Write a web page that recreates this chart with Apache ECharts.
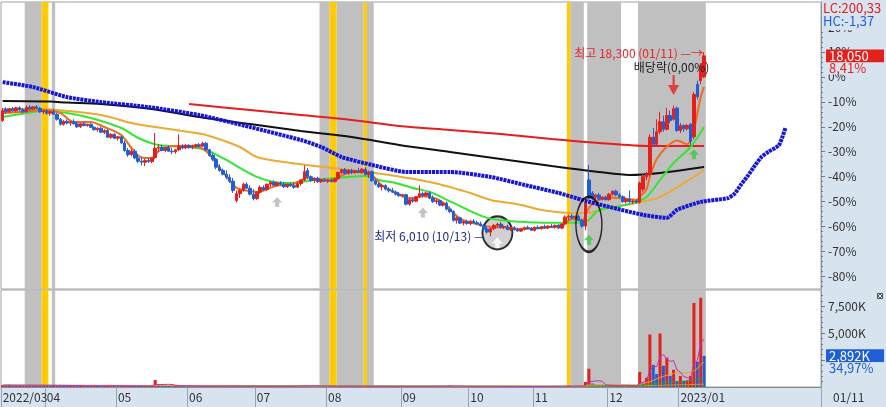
<!DOCTYPE html>
<html><head><meta charset="utf-8">
<script src="https://cdn.jsdelivr.net/npm/echarts@6/dist/echarts.min.js"></script>
<style>html,body{margin:0;padding:0;background:#fff}#c{width:886px;height:407px}</style>
</head><body><div id="c"></div>
<script>
// ---------- categories (trading days) ----------
const tradingMonths = [
 ['2022/03',[15,16,17,18,21,22,23,24,25,28,29,30,31]],
 ['2022/04',[1,4,5,6,7,8,11,12,13,14,15,18,19,20,21,22,25,26,27,28,29]],
 ['2022/05',[2,3,4,6,9,10,11,12,13,16,17,18,19,20,23,24,25,26,27,30,31]],
 ['2022/06',[2,3,7,8,9,10,13,14,15,16,17,20,21,22,23,24,27,28,29,30]],
 ['2022/07',[1,4,5,6,7,8,11,12,13,14,15,18,19,20,21,22,25,26,27,28,29]],
 ['2022/08',[1,2,3,4,5,8,9,10,11,12,16,17,18,19,22,23,24,25,26,29,30,31]],
 ['2022/09',[1,2,5,6,7,8,13,14,15,16,19,20,21,22,23,26,27,28,29,30]],
 ['2022/10',[4,5,6,7,11,12,13,14,17,18,19,20,21,24,25,26,27,28,31]],
 ['2022/11',[1,2,3,4,7,8,9,10,11,14,15,16,17,18,21,22,23,24,25,28,29,30]],
 ['2022/12',[1,2,5,6,7,8,9,12,13,14,15,16,19,20,21,22,23,26,27,28,29]],
 ['2023/01',[2,3,4,5,6,9,10,11]]
];
const futureMonths = [
 ['2023/01',[12,13,16,17,18,19,20,25,26,27,30,31]],
 ['2023/02',[1,2,3,6,7,8,9,10,13,14,15,16,17,20,21,22,23,24,27,28]],
 ['2023/03',[2,3]]
];

// ---------- price data (% vs base price) ----------
const basePrice = 16650;
const opens = [
-17.5,-13.0,-14.0,-12.8,-13.6,-12.4,-13.2,-14.0,-12.2,-12.9,
-12.0,-12.6,-14.0,-13.6,-14.6,-14.0,-15.0,-17.0,-19.0,-17.8,
-18.5,-18.0,-18.8,-20.0,-18.8,-19.5,-19.0,-20.2,-21.2,-20.6,
-22.2,-21.5,-24.2,-23.0,-24.6,-24.0,-26.5,-29.5,-31.2,-29.8,
-32.5,-33.8,-34.2,-33.5,-33.9,-32.3,-28.6,-28.2,-29.5,-28.3,
-29.8,-30.0,-29.2,-27.8,-28.5,-27.5,-28.3,-27.8,-27.2,-27.8,
-26.6,-29.2,-31.5,-33.0,-36.2,-37.5,-39.0,-40.2,-41.8,-49.5,
-46.8,-45.5,-43.0,-44.6,-47.0,-48.8,-46.2,-44.3,-45.2,-43.0,
-42.2,-43.4,-42.5,-43.0,-44.0,-43.0,-43.6,-44.2,-42.8,-41.3,
-37.5,-40.0,-41.5,-40.6,-42.0,-41.2,-41.8,-41.5,-42.0,-40.8,
-38.3,-37.2,-38.6,-37.4,-38.3,-37.6,-38.2,-37.0,-39.2,-38.0,
-41.6,-43.0,-44.0,-43.6,-45.0,-45.6,-46.2,-47.0,-47.6,-47.2,
-51.0,-49.2,-49.8,-48.0,-46.8,-47.5,-46.5,-48.6,-50.0,-49.6,
-51.4,-50.6,-53.0,-54.0,-57.5,-56.5,-58.6,-58.0,-58.8,-57.8,
-58.4,-58.9,-59.6,-61.0,-62.2,-60.8,-59.5,-59.0,-60.2,-60.0,
-61.2,-60.5,-61.3,-61.8,-61.0,-60.4,-60.8,-61.5,-60.3,-60.8,
-60.0,-60.5,-59.8,-60.2,-59.5,-60.6,-59.0,-56.2,-55.8,-56.5,
-55.9,-57.5,-59.8,-41.3,-46.5,-48.2,-47.3,-49.0,-48.2,-49.2,
-47.0,-45.8,-47.3,-48.0,-50.0,-49.0,-50.0,-49.8,-50.2,-45.0,
-40.0,-39.0,-24.2,-27.0,-22.0,-18.0,-21.0,-15.5,-17.0,-12.5,
-21.5,-19.5,-20.8,-19.0,-24.0,-3.0,-1.5,0.0];
const highs = [
-12.5,-12.2,-12.5,-12.0,-12.0,-11.8,-12.5,-11.5,-11.4,-11.8,
-11.3,-12.0,-13.0,-13.0,-13.5,-12.8,-14.5,-16.5,-17.2,-17.0,
-17.5,-17.0,-18.0,-18.5,-18.2,-18.8,-18.5,-19.8,-20.2,-20.0,
-21.0,-21.0,-22.5,-22.6,-23.8,-23.5,-25.5,-28.5,-29.0,-29.0,
-31.0,-32.0,-32.8,-32.6,-32.5,-22.5,-27.0,-27.2,-28.0,-27.5,
-28.5,-29.0,-23.0,-27.0,-27.0,-27.0,-27.2,-26.8,-26.5,-26.0,
-26.0,-28.8,-30.5,-32.5,-35.0,-36.8,-37.5,-39.0,-40.5,-45.5,
-45.0,-42.5,-42.3,-43.5,-45.0,-45.8,-43.5,-43.5,-42.8,-41.8,
-41.5,-42.0,-41.8,-42.2,-42.8,-42.5,-42.5,-42.0,-41.8,-35.5,
-36.5,-39.5,-40.3,-40.0,-40.8,-40.5,-41.0,-40.8,-40.5,-38.0,
-36.8,-36.5,-37.0,-36.8,-37.2,-36.4,-36.5,-36.2,-37.5,-37.5,
-40.8,-42.2,-43.0,-43.0,-44.2,-44.5,-45.5,-46.2,-46.8,-46.8,
-48.5,-48.2,-47.8,-43.5,-46.0,-46.0,-45.8,-47.5,-49.0,-49.2,
-50.2,-50.0,-52.0,-53.5,-56.0,-56.0,-57.5,-57.2,-57.5,-57.0,
-57.6,-58.0,-59.0,-60.0,-60.5,-59.0,-58.5,-58.2,-59.5,-59.2,
-60.0,-59.8,-60.5,-60.8,-60.0,-59.6,-60.2,-60.0,-59.5,-59.8,
-59.2,-59.5,-59.0,-59.2,-59.0,-58.8,-55.5,-55.2,-55.0,-55.5,
-55.2,-56.8,-50.0,-35.3,-45.8,-46.8,-46.5,-47.8,-47.6,-46.5,
-45.5,-45.2,-46.5,-47.5,-48.5,-45.5,-49.2,-49.0,-42.0,-39.0,
-38.0,-23.0,-20.5,-17.0,-14.0,-15.5,-12.5,-13.5,-11.5,-12.0,
-18.5,-19.0,-18.8,-18.5,-6.0,-1.5,5.5,9.91];
const lows = [
-18.0,-14.8,-14.5,-14.0,-14.2,-13.9,-14.6,-14.3,-13.5,-13.3,
-13.0,-14.4,-15.0,-15.2,-15.6,-15.0,-17.5,-19.5,-19.6,-19.0,
-19.6,-19.0,-20.5,-20.5,-19.8,-20.0,-20.5,-21.5,-22.0,-22.5,
-23.0,-24.5,-24.8,-25.0,-25.5,-26.8,-30.0,-32.0,-31.8,-33.0,
-34.5,-35.5,-35.8,-34.5,-34.6,-33.0,-30.0,-29.8,-30.2,-30.0,
-31.0,-30.8,-29.8,-29.0,-29.0,-28.8,-29.0,-28.5,-28.2,-28.0,
-29.5,-32.0,-33.8,-37.0,-38.0,-39.5,-41.0,-42.5,-46.5,-50.3,
-48.5,-46.0,-45.0,-47.5,-49.5,-49.3,-46.8,-45.8,-45.6,-44.0,
-43.8,-44.0,-43.5,-44.5,-44.5,-44.0,-44.8,-44.5,-43.5,-41.8,
-41.0,-42.0,-42.6,-42.5,-42.5,-42.0,-42.5,-42.2,-42.3,-41.3,
-38.8,-39.0,-39.2,-39.0,-38.8,-38.5,-38.8,-39.5,-40.5,-42.0,
-43.5,-44.5,-45.6,-45.5,-46.3,-46.5,-47.5,-48.0,-48.3,-51.5,
-51.6,-50.5,-50.2,-48.5,-48.3,-48.0,-49.0,-50.5,-51.0,-51.8,
-52.0,-53.5,-54.5,-58.0,-58.8,-59.0,-59.5,-59.2,-59.5,-59.0,
-59.3,-60.0,-61.5,-62.8,-63.9,-61.5,-60.5,-60.8,-61.0,-61.5,
-61.8,-61.5,-62.0,-62.2,-61.5,-61.0,-61.8,-62.0,-61.0,-61.2,
-60.8,-61.0,-60.5,-60.8,-61.0,-61.0,-59.5,-57.5,-57.2,-57.0,
-57.8,-60.5,-61.5,-49.0,-48.8,-49.2,-49.5,-49.6,-49.5,-49.6,
-47.6,-47.8,-48.5,-50.5,-50.8,-50.5,-51.0,-50.8,-50.8,-46.0,
-41.5,-40.0,-28.0,-27.5,-23.0,-22.0,-21.5,-18.5,-17.5,-22.0,
-22.5,-22.0,-21.5,-27.3,-25.0,-9.0,-3.0,-0.5];
const closes = [
-13.5,-14.0,-12.8,-13.6,-12.4,-13.2,-14.0,-12.2,-12.9,-12.0,
-12.6,-14.0,-13.6,-14.6,-14.0,-15.0,-17.0,-19.0,-17.8,-18.5,
-18.0,-18.8,-20.0,-18.8,-19.5,-19.0,-20.2,-21.2,-20.6,-22.2,
-21.5,-24.2,-23.0,-24.6,-24.0,-26.5,-29.5,-31.2,-29.8,-32.5,
-33.8,-34.2,-33.5,-33.9,-32.5,-28.6,-28.2,-29.5,-28.3,-29.8,
-30.0,-29.2,-27.8,-28.5,-27.5,-28.3,-27.8,-27.2,-27.8,-26.6,
-29.2,-31.5,-33.0,-36.2,-37.5,-39.0,-40.2,-41.8,-45.5,-46.8,
-45.5,-43.0,-44.6,-47.0,-48.8,-46.2,-44.3,-45.2,-43.0,-42.2,
-43.4,-42.5,-43.0,-44.0,-43.0,-43.6,-44.2,-42.8,-41.3,-38.0,
-40.0,-41.5,-40.6,-42.0,-41.2,-41.8,-41.5,-42.0,-40.8,-38.3,
-37.2,-38.6,-37.4,-38.3,-37.6,-38.2,-37.0,-39.2,-38.0,-41.6,
-43.0,-44.0,-43.6,-45.0,-45.6,-46.2,-47.0,-47.6,-47.2,-51.0,
-49.2,-49.8,-48.0,-46.8,-47.5,-46.5,-48.6,-50.0,-49.6,-51.4,
-50.6,-53.0,-54.0,-57.5,-56.5,-58.6,-58.0,-58.8,-57.8,-58.4,
-58.9,-59.6,-61.0,-62.2,-60.8,-59.5,-59.0,-60.2,-60.0,-61.2,
-60.5,-61.3,-61.8,-61.0,-60.4,-60.8,-61.5,-60.3,-60.8,-60.0,
-60.5,-59.8,-60.2,-59.5,-60.6,-59.0,-56.2,-55.8,-56.5,-55.9,
-57.5,-59.8,-50.5,-48.1,-48.2,-47.3,-49.0,-48.2,-49.2,-47.0,
-45.8,-47.3,-48.0,-50.0,-49.0,-50.0,-49.8,-50.2,-42.5,-40.0,
-39.0,-24.2,-27.0,-22.0,-18.0,-21.0,-15.5,-17.5,-12.8,-21.5,
-19.5,-20.8,-19.5,-25.8,-7.0,-8.0,4.5,8.41];

// volume, thousand shares
const volumes = [
180,150,210,130,160,120,170,140,200,110,150,130,160,
140,120,150,110,190,130,100,120,140,90,110,130,100,120,150,110,90,100,120,140,110,
120,100,140,110,160,120,100,90,110,80,100,650,260,150,110,90,80,100,180,90,70,
80,70,90,60,100,80,70,90,110,80,70,60,80,90,120,70,60,80,70,60,
60,50,70,60,80,50,60,50,70,60,50,60,70,90,190,80,60,50,60,50,60,
50,60,70,50,80,90,60,50,60,50,60,70,50,60,80,60,50,60,50,40,50,60,
50,40,70,50,60,90,60,50,60,50,40,60,50,70,160,80,60,50,40,50,
60,50,40,50,60,70,90,60,50,40,50,40,50,60,40,50,40,50,40,
40,50,60,40,50,60,50,70,60,90,150,80,70,60,90,470,1690,320,210,180,140,120,
110,150,100,90,80,70,130,90,80,1400,380,850,4870,2060,1200,4970,1970,2720,1030,1600,560,
1030,560,600,1030,7800,2350,8280,2892];

// moving averages: [day index, %]
const ma5 = [[0,-14.5],[5,-14.1],[12,-13.3],[17,-14.5],[21,-18.1],[26,-18.1],[30,-20.1],[35,-23.3],[38,-28.5],[41,-32.3],[44,-32.5],[46,-29.8],[49,-28.0],[55,-27.6],[58,-28.1],[61,-31.0],[64,-36.5],[67,-41.5],[69,-44.5],[71,-45.3],[75,-46.1],[78,-45.0],[81,-43.5],[85,-43.3],[88,-41.5],[90,-40.3],[92,-41.0],[97,-41.3],[100,-39.5],[103,-38.2],[106,-38.2],[109,-39.5],[112,-43.5],[116,-46.5],[119,-48.3],[121,-48.6],[124,-47.8],[128,-48.8],[131,-51.5],[133,-54.5],[135,-56.8],[138,-58.3],[143,-60.0],[148,-60.4],[153,-61.0],[158,-60.7],[162,-60.2],[164,-59.8],[166,-58.5],[168,-57.0],[171,-57.5],[172,-55.5],[173,-52.5],[175,-50.0],[179,-48.3],[184,-48.8],[187,-49.4],[188,-48.0],[190,-45.0],[191,-40.0],[193,-33.0],[196,-28.0],[199,-25.5],[202,-27.0],[204,-21.0],[206,-8.0],[207,-4.0]];
const ma20 = [[0,-16.1],[9,-14.1],[12,-13.7],[19,-14.5],[26,-16.5],[35,-20.5],[40,-24.5],[46,-27.3],[55,-28.1],[60,-29.3],[66,-33.3],[70,-36.5],[75,-40.1],[80,-42.1],[85,-42.5],[92,-41.3],[102,-40.1],[107,-39.7],[111,-41.3],[116,-42.5],[121,-44.5],[126,-46.1],[133,-50.5],[143,-56.5],[153,-58.1],[162,-58.5],[167,-58.5],[172,-58.1],[176,-53.3],[181,-52.1],[186,-50.5],[190,-48.1],[194,-41.3],[198,-34.5],[203,-28.1],[207,-20.1]];
const ma60 = [[0,-12.9],[8,-12.9],[16,-13.3],[29,-15.3],[38,-18.5],[41,-19.3],[55,-22.1],[60,-23.3],[70,-28.1],[75,-32.1],[85,-34.5],[97,-36.5],[108,-38.1],[126,-42.1],[138,-46.5],[144,-49.3],[153,-51.3],[159,-53.3],[168,-54.5],[172,-54.5],[179,-52.5],[187,-50.5],[194,-48.1],[207,-37.3]];
const ma120 = [[0,-9.7],[14,-9.9],[19,-10.3],[29,-10.9],[44,-12.9],[58,-16.1],[73,-18.9],[88,-21.7],[103,-24.1],[117,-27.3],[132,-30.1],[147,-32.9],[162,-35.7],[176,-38.1],[185,-39.3],[194,-38.5],[207,-36.1]];
const ma240 = [[55,-10.9],[73,-13.3],[88,-15.3],[103,-17.3],[117,-19.7],[132,-21.3],[147,-22.9],[162,-24.9],[176,-26.5],[191,-27.7],[207,-27.7]];
const shiftedLine = [[0,-2.1],[9,-4.1],[19,-8.1],[29,-10.1],[43,-12.1],[58,-15.3],[73,-20.1],[88,-25.3],[94,-28.1],[100,-32.1],[109,-35.3],[119,-38.1],[126,-38.1],[132,-38.1],[144,-40.1],[154,-43.3],[164,-46.5],[171,-49.3],[179,-52.1],[189,-55.3],[196,-56.5],[199,-53.3],[206,-50.1],[214,-48.6],[216,-46.8],[218,-43.0],[220,-39.5],[222,-35.5],[224,-32.0],[226,-30.0],[229,-27.5],[230,-24.5],[231,-20.5]];

// volume moving averages: [day index, thousand shares]
const volMa5 = [[0,165],[12,160],[25,125],[33,120],[40,110],[44,100],[45,210],[47,230],[49,250],[50,230],[52,120],[60,85],[80,65],[87,70],[89,100],[92,110],[94,80],[120,60],[132,80],[135,90],[137,60],[160,50],[166,70],[171,90],[172,150],[173,470],[174,530],[175,550],[176,570],[177,530],[178,180],[182,120],[187,90],[188,350],[189,420],[190,560],[191,1520],[192,1910],[193,1890],[194,2790],[195,3010],[196,2580],[197,2380],[198,2460],[199,1580],[200,1390],[201,960],[202,870],[203,760],[204,2200],[205,2470],[206,4010],[207,4470]];
const volMa20 = [[0,160],[33,130],[45,140],[55,130],[70,85],[95,70],[130,60],[160,55],[171,70],[173,170],[180,230],[187,200],[188,250],[191,480],[194,880],[196,1100],[198,1250],[200,1300],[202,1300],[204,1500],[205,1700],[206,2100],[207,2300]];
const volMa60 = [[0,170],[40,140],[80,100],[120,70],[171,60],[173,110],[187,140],[190,220],[195,400],[200,500],[204,650],[207,800]];
const volMa120 = [[0,140],[100,110],[171,80],[188,110],[207,260]];

// highlighted periods
const grayBands = [['2022/03/24','2022/03/30'],['2022/04/05','2022/04/05'],['2022/07/28','2022/08/01'],['2022/08/04','2022/08/16'],['2022/08/18','2022/08/19'],['2022/11/16','2022/11/21'],['2022/11/23','2022/12/06'],['2022/12/14','2023/01/11']];
const yellowBands = [['2022/03/31','2022/04/01'],['2022/08/02','2022/08/03'],['2022/08/17','2022/08/17'],['2022/11/15','2022/11/15']];

// signal markers [day index, %]
const grayUpSignals = [[81,-50.1],[124,-54.3]];
const whiteUpSignals = [[146,-66.5]];
const greenUpSignals = [[173,-65.3],[204,-31.0]];
const exDividendMarks = [[198,-3.3]];
const filledEllipses = [[146,-62.5]];
const openEllipses = [[173,-59.1]];

// texts
const yTicks = [-80,-70,-60,-50,-40,-30,-20,-10,0,10,20];
const yMinorTicks = [-84,-82,-78,-76,-74,-72,-68,-66,-64,-62,-58,-56,-54,-52,-48,-46,-44,-42,-38,-36,-34,-32,-28,-26,-24,-22,-18,-16,-14,-12,-8,-6,-4,-2,2,4,6,8,12,14,16,18,22,24,26,28];
const volTicks = [2500,5000,7500];
const volMinorTicks = [500,1000,1500,2000,3000,3500,4000,4500,5500,6000,6500,7000,8000,8500];
const hiText = '최고 18,300 (01/11) —→';
const loText = '최저 6,010 (10/13) —';
const exDivText = '배당락(0,00%)';
const lcText = 'LC:200,33';
const hcText = 'HC:-1,37';
const volRatioText = '34,97%';
const lastDateText = '01/11';

// ---------- build ----------
const pad = d => (d < 10 ? '0' : '') + d;
const cats = [];
tradingMonths.forEach(([m, ds]) => ds.forEach(d => cats.push(m + '/' + pad(d))));
const nData = cats.length;
futureMonths.forEach(([m, ds]) => ds.forEach(d => cats.push(m + '/' + pad(d))));

const isMonthStart = (i) => i < nData && (i === 0 || cats[i].slice(0, 7) !== cats[i - 1].slice(0, 7));
const isLabelMonth = (i) => i > 0 && isMonthStart(i);
const fmtMonth = (v, i) => (i === 0 || v.slice(5, 7) === '01') ? v.slice(0, 7) : v.slice(5, 7);

const bandData = [];
grayBands.forEach(([a, b]) => bandData.push([cats.indexOf(a), cats.indexOf(b), 0]));
yellowBands.forEach(([a, b]) => bandData.push([cats.indexOf(a), cats.indexOf(b), 1]));

const RED = '#e3201b', BLUE = '#1f5fd6';
const FONT = '"Noto Sans CJK KR","Noto Sans",sans-serif';
const candleData = opens.map((o, i) => [o, closes[i], lows[i], highs[i]]);
const volData = volumes.map((v, i) => ({ value: v, itemStyle: { color: (i > 0 && v < volumes[i - 1]) ? BLUE : RED } }));

const UP = 'path://M5,0 L10,5.5 L7,5.5 L7,10 L3,10 L3,5.5 L0,5.5 Z';
const DOWN = 'path://M4,0 L6,0 L6,10 L10,10 L5,20 L0,10 L4,10 Z';
const ELL = 'path://M50,0 C77.6,0 100,22.4 100,50 C100,77.6 77.6,100 50,100 C22.4,100 0,77.6 0,50 C0,22.4 22.4,0 50,0 Z';

function bandItem(params, api) {
  const s = api.value(0), e = api.value(1), k = api.value(2);
  const cs = params.coordSys;
  const w = api.size([1, 0])[0];
  const x0 = api.coord([s, 0])[0] - w / 2;
  const x1 = api.coord([e, 0])[0] + w / 2;
  return { type: 'rect', shape: { x: x0, y: cs.y, width: x1 - x0, height: cs.height },
           style: { fill: k ? '#ffcc00' : '#c0c0c0' } };
}
const line = (data, color, z, extra) => Object.assign({
  type: 'line', xAxisIndex: 0, yAxisIndex: 0, data, symbol: 'none', showSymbol: false,
  smooth: 0.3, lineStyle: { color, width: 2 }, z, silent: true }, extra || {});
const vline = (data, color) => ({
  type: 'line', xAxisIndex: 1, yAxisIndex: 2, data, symbol: 'none', showSymbol: false,
  lineStyle: { color, width: 1 }, z: 4, silent: true });

const axisTxt = { color: '#333', fontSize: 12, fontFamily: FONT };
const chart = echarts.init(document.getElementById('c'), null, { renderer: 'canvas' });
chart.setOption({
  animation: false,
  backgroundColor: '#ffffff',
  grid: [
    { left: 1, top: 2, width: 820, height: 287, show: true, borderColor: '#a0a0a0', borderWidth: 1 },
    { left: 1, top: 290, width: 820, height: 97, show: true, borderColor: '#a0a0a0', borderWidth: 1 }
  ],
  xAxis: [
    { type: 'category', gridIndex: 0, data: cats, boundaryGap: true, axisLine: { show: false }, axisTick: { show: false }, axisLabel: { show: false }, splitLine: { show: false } },
    { type: 'category', gridIndex: 1, data: cats, boundaryGap: true,
      axisLine: { show: true, lineStyle: { color: '#8c8c8c' } },
      axisTick: { show: true, interval: isMonthStart, length: 20, lineStyle: { color: '#97a3b3' } },
      axisLabel: Object.assign({ show: true, interval: isLabelMonth, formatter: fmtMonth, align: 'left', margin: 4,
        hideOverlap: false, showMinLabel: true, showMaxLabel: true }, axisTxt),
      splitLine: { show: false } }
  ],
  yAxis: [
    { type: 'value', gridIndex: 0, position: 'right', min: -85, max: 30,
      axisLine: { show: true, lineStyle: { color: '#8d99ab' } },
      axisTick: { show: true, customValues: yTicks, length: 4, lineStyle: { color: '#6d7a8c' } },
      axisLabel: Object.assign({ customValues: yTicks, formatter: v => v + '%', margin: 7 }, axisTxt),
      splitLine: { show: false } },
    { type: 'value', gridIndex: 0, position: 'right', min: -85, max: 30,
      axisLine: { show: false }, axisTick: { show: true, customValues: yMinorTicks, length: 2, lineStyle: { color: '#6d7a8c' } },
      axisLabel: { show: false }, splitLine: { show: false } },
    { type: 'value', gridIndex: 1, position: 'right', min: 0, max: 9000,
      axisLine: { show: true, lineStyle: { color: '#8d99ab' } },
      axisTick: { show: true, customValues: volTicks, length: 4, lineStyle: { color: '#6d7a8c' } },
      axisLabel: Object.assign({ customValues: volTicks, formatter: v => v.toLocaleString('en-US') + 'K', margin: 7 }, axisTxt),
      splitLine: { show: false } },
    { type: 'value', gridIndex: 1, position: 'right', min: 0, max: 9000,
      axisLine: { show: false }, axisTick: { show: true, customValues: volMinorTicks, length: 2, lineStyle: { color: '#6d7a8c' } },
      axisLabel: { show: false }, splitLine: { show: false } }
  ],
  series: [
    { type: 'custom', xAxisIndex: 0, yAxisIndex: 0, z: 0, silent: true, renderItem: bandItem, data: bandData, encode: { x: [0, 1], y: 2 } },
    { type: 'custom', xAxisIndex: 1, yAxisIndex: 2, z: 0, silent: true, renderItem: bandItem, data: bandData, encode: { x: [0, 1], y: 2 } },
    { type: 'scatter', xAxisIndex: 0, yAxisIndex: 0, z: 1, data: filledEllipses, symbol: ELL, symbolSize: [30, 33],
      itemStyle: { color: '#c4c4c4', borderColor: '#000', borderWidth: 2 }, silent: true },
    line(ma240, '#e81c1c', 2),
    line(ma120, '#111111', 2),
    line(ma60, '#eea930', 2),
    line(ma20, '#33e633', 2),
    line(ma5, '#f26a1b', 2),
    { type: 'candlestick', xAxisIndex: 0, yAxisIndex: 0, data: candleData, barWidth: 3, z: 3, silent: true,
      itemStyle: { color: RED, color0: BLUE, borderColor: RED, borderColor0: BLUE, borderWidth: 1 } },
    line(shiftedLine, '#1515d8', 4, { smooth: 0.2, lineStyle: { color: '#1515d8', width: 4, type: [3, 0.8], cap: 'butt' } }),
    { type: 'scatter', xAxisIndex: 0, yAxisIndex: 0, z: 5, data: openEllipses, symbol: ELL, symbolSize: [26, 55],
      itemStyle: { color: 'rgba(0,0,0,0)', borderColor: '#000', borderWidth: 2 }, silent: true },
    { type: 'scatter', xAxisIndex: 0, yAxisIndex: 0, z: 6, data: grayUpSignals, symbol: UP, symbolSize: [10, 10], itemStyle: { color: '#b5b5b5' }, silent: true },
    { type: 'scatter', xAxisIndex: 0, yAxisIndex: 0, z: 6, data: whiteUpSignals, symbol: UP, symbolSize: [11, 11], itemStyle: { color: '#ffffff' }, silent: true },
    { type: 'scatter', xAxisIndex: 0, yAxisIndex: 0, z: 6, data: greenUpSignals, symbol: UP, symbolSize: [10, 10], itemStyle: { color: '#3cc83c' }, silent: true },
    { type: 'scatter', xAxisIndex: 0, yAxisIndex: 0, z: 6, data: exDividendMarks, symbol: DOWN, symbolSize: [11, 20], itemStyle: { color: RED }, silent: true },
    { type: 'bar', xAxisIndex: 1, yAxisIndex: 2, data: volData, barWidth: 3, z: 3, silent: true },
    vline(volMa120, '#9fb020'),
    vline(volMa60, '#339933'),
    vline(volMa20, '#f0a020'),
    vline(volMa5, '#c030c0')
  ]
});

// ---------- annotations positioned through the axes ----------
const P = (i, v) => chart.convertToPixel({ xAxisIndex: 0, yAxisIndex: 0 }, [i, v]);
const PV = (i, v) => chart.convertToPixel({ xAxisIndex: 1, yAxisIndex: 2 }, [i, v]);
const last = nData - 1;
const txt = (text, x, y, fill, align, extra) => ({ type: 'text', z: 50, silent: true,
  style: Object.assign({ text, x, y, fill, font: '12px ' + FONT, textAlign: align || 'left', textVerticalAlign: 'middle' }, extra || {}) });

const hiIdx = highs.indexOf(Math.max.apply(null, highs));
const loIdx = lows.indexOf(Math.min.apply(null, lows));
const hp = P(hiIdx, highs[hiIdx]);
const lp = P(loIdx, lows[loIdx]);
const ep = P(exDividendMarks[0][0], exDividendMarks[0][1]);
const cy = P(last, closes[last])[1];
const vy = PV(last, volumes[last])[1];
const x0 = P(0, 0)[0];
const lastPrice = Math.round(basePrice * (1 + closes[last] / 100)).toLocaleString('en-US');
const lastPct = closes[last].toFixed(2).replace('.', ',') + '%';
const lastVol = volumes[last].toLocaleString('en-US') + 'K';
const PANEL = '#d8e3f0';

chart.setOption({ graphic: { elements: [
  { type: 'rect', z: -1, silent: true, shape: { x: 821, y: 0, width: 65, height: 407 }, style: { fill: PANEL } },
  { type: 'rect', z: -1, silent: true, shape: { x: 0, y: 387, width: 821, height: 20 }, style: { fill: PANEL } },
  txt(hiText, hp[0] - 1, hp[1] + 1, '#e3262b', 'right'),
  txt(exDivText, ep[0] - 2, ep[1] - 18, '#222222', 'center'),
  txt(loText, lp[0] - 6, lp[1], '#1f2c8c', 'right'),
  { type: 'rect', z: 49, silent: true, shape: { x: 822, y: 1, width: 64, height: 29 }, style: { fill: PANEL } },
  txt(lcText, 823, 8, RED, 'left', { font: '13px ' + FONT }),
  txt(hcText, 823, 21, BLUE, 'left', { font: '13px ' + FONT }),
  { type: 'rect', z: 49, silent: true, shape: { x: 826, y: cy - 6.5, width: 58, height: 13 }, style: { fill: RED } },
  txt(lastPrice, 829, cy, '#ffffff', 'left', { font: '13px ' + FONT }),
  { type: 'rect', z: 49, silent: true, shape: { x: 826, y: cy + 6.5, width: 58, height: 12 }, style: { fill: PANEL } },
  txt(lastPct, 829, cy + 12.5, RED, 'left', { font: '13px ' + FONT }),
  { type: 'rect', z: 49, silent: true, shape: { x: 826, y: vy - 6.5, width: 58, height: 13 }, style: { fill: BLUE } },
  txt(lastVol, 829, vy, '#ffffff', 'left', { font: '13px ' + FONT }),
  { type: 'rect', z: 49, silent: true, shape: { x: 826, y: vy + 6.5, width: 58, height: 11 }, style: { fill: PANEL } },
  txt(volRatioText, 829, vy + 12.5, BLUE, 'left', { font: '13px ' + FONT }),
  { type: 'rect', z: 50, silent: true, shape: { x: 877, y: 293, width: 6, height: 6 }, style: { fill: '#555555' } },
  { type: 'line', z: 51, silent: true, shape: { x1: 878, y1: 294, x2: 882, y2: 298 }, style: { stroke: '#fff', lineWidth: 1 } },
  { type: 'line', z: 51, silent: true, shape: { x1: 882, y1: 294, x2: 878, y2: 298 }, style: { stroke: '#fff', lineWidth: 1 } },
  txt(fmtMonth(cats[0], 0), x0, 397, '#333333', 'left', { font: '12px ' + FONT }),
  txt(lastDateText, 833, 397, '#333333', 'left')
] } });
</script></body></html>
